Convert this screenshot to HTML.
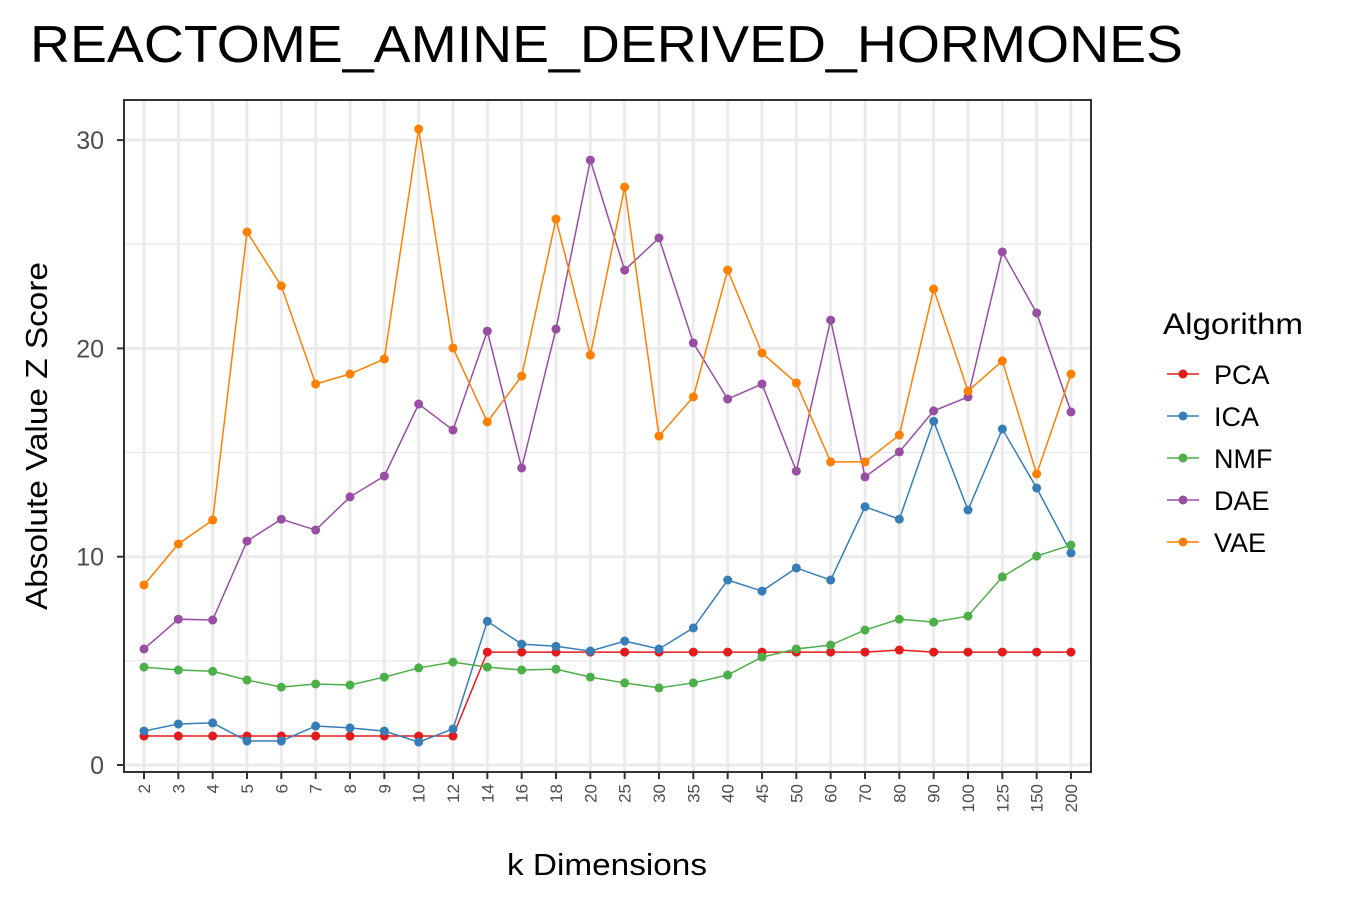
<!DOCTYPE html>
<html><head><meta charset="utf-8"><style>
body{margin:0;background:#fff;font-family:"Liberation Sans",Arial,sans-serif}
</style></head><body>
<svg id="c" width="1350" height="900" xmlns="http://www.w3.org/2000/svg">
<text x="30" y="62" font-size="52" textLength="1153" lengthAdjust="spacingAndGlyphs" fill="#000">REACTOME_AMINE_DERIVED_HORMONES</text>
<g id="grid"></g><g id="series"></g><g id="axes"></g><g id="legend"></g>
<text x="507" y="875" font-size="31" textLength="200" lengthAdjust="spacingAndGlyphs">k Dimensions</text>
<text transform="translate(47,610) rotate(-90)" font-size="31" textLength="348" lengthAdjust="spacingAndGlyphs">Absolute Value Z Score</text>
</svg>
<script>
const categories=["2","3","4","5","6","7","8","9","10","12","14","16","18","20","25","30","35","40","45","50","60","70","80","90","100","125","150","200"];
const pca=[1.39,1.39,1.39,1.39,1.39,1.39,1.39,1.39,1.39,1.39,5.42,5.42,5.42,5.42,5.42,5.42,5.42,5.42,5.42,5.42,5.42,5.42,5.52,5.42,5.42,5.42,5.42,5.42];
const ica=[1.63,1.97,2.02,1.15,1.15,1.87,1.78,1.63,1.1,1.73,6.9,5.8,5.7,5.47,5.95,5.57,6.58,8.88,8.35,9.46,8.88,12.4,11.8,16.5,12.24,16.13,13.3,10.18];
const nmf=[4.7,4.56,4.5,4.08,3.74,3.89,3.84,4.22,4.66,4.94,4.7,4.56,4.6,4.22,3.94,3.7,3.94,4.32,5.18,5.57,5.76,6.48,7.0,6.86,7.15,9.03,10.03,10.56];
const dae=[5.57,7.0,6.96,10.75,11.8,11.28,12.87,13.87,17.33,16.08,20.83,14.26,20.93,29.04,23.76,25.3,20.26,17.57,18.29,14.11,21.36,13.83,15.03,17.0,17.67,24.63,21.7,16.95];
const vae=[8.64,10.61,11.76,25.59,23.0,18.29,18.77,19.49,30.53,20.02,16.47,18.67,26.21,19.68,27.75,15.79,17.67,23.76,19.78,18.34,14.55,14.55,15.84,22.85,17.95,19.4,13.97,18.77];
const seriesNames=["PCA","ICA","NMF","DAE","VAE"];
const seriesColors=["#E41A1C","#377EB8","#4DAF4A","#984EA3","#FF7F00"];
const yTicks=[0,10,20,30];
const yMinor=[5,15,25];
const NS="http://www.w3.org/2000/svg";
const L=124,R=1091,T=100,B=772;
const xs=i=>144+i*(1071-144)/(categories.length-1);
const ys=v=>765-v*20.83;
function mk(tag,attrs,parent){const e=document.createElementNS(NS,tag);for(const k in attrs)e.setAttribute(k,attrs[k]);parent.appendChild(e);return e;}
const grid=document.getElementById('grid'),axes=document.getElementById('axes'),ser=document.getElementById('series'),leg=document.getElementById('legend');
yMinor.forEach(v=>{const l=mk('line',{x1:L,x2:R,y1:ys(v),y2:ys(v),stroke:'#ebebeb','stroke-width':1.5},grid);

});
yTicks.forEach(v=>{const l=mk('line',{x1:L,x2:R,y1:ys(v),y2:ys(v),stroke:'#ebebeb','stroke-width':3},grid);


const t=mk('line',{x1:L-7,x2:L,y1:ys(v),y2:ys(v),stroke:'#333','stroke-width':2},axes);


const tx=mk('text',{x:L-20,y:ys(v)+9,'font-size':25,fill:'#4d4d4d','text-anchor':'end'},axes);tx.textContent=v;

});
categories.forEach((c,i)=>{const x=xs(i);
const l=mk('line',{x1:x,x2:x,y1:T,y2:B,stroke:'#ebebeb','stroke-width':3},grid);


const t=mk('line',{x1:x,x2:x,y1:B,y2:B+7,stroke:'#333','stroke-width':2},axes);


const tx=mk('text',{transform:`translate(${x+6},${B+12}) rotate(-90)`,'font-size':17,fill:'#4d4d4d','text-anchor':'end'},axes);tx.textContent=c;

});
const border=mk('rect',{x:L,y:T,width:R-L,height:B-T,fill:'none',stroke:'#333','stroke-width':2},axes);


[pca,ica,nmf,dae,vae].forEach((d,s)=>{const g=mk('g',{},ser);


const p=mk('polyline',{points:d.map((v,i)=>xs(i)+','+ys(v)).join(' '),fill:'none',stroke:seriesColors[s],'stroke-width':1.5},g);


d.forEach((v,i)=>{const c=mk('circle',{cx:xs(i),cy:ys(v),r:4.5,fill:seriesColors[s]},g);

});});
const lt=mk('text',{x:1163,y:334,'font-size':30,textLength:140,lengthAdjust:'spacingAndGlyphs'},leg);lt.textContent='Algorithm';


seriesNames.forEach((n,s)=>{const y=374+s*42;const g=mk('g',{},leg);


mk('line',{x1:1167,x2:1199,y1:y,y2:y,stroke:seriesColors[s],'stroke-width':1.5},g);
mk('circle',{cx:1183,cy:y,r:4.5,fill:seriesColors[s]},g);
const t=mk('text',{x:1214,y:y+10,'font-size':27},g);t.textContent=n;});
</script>
</body></html>
